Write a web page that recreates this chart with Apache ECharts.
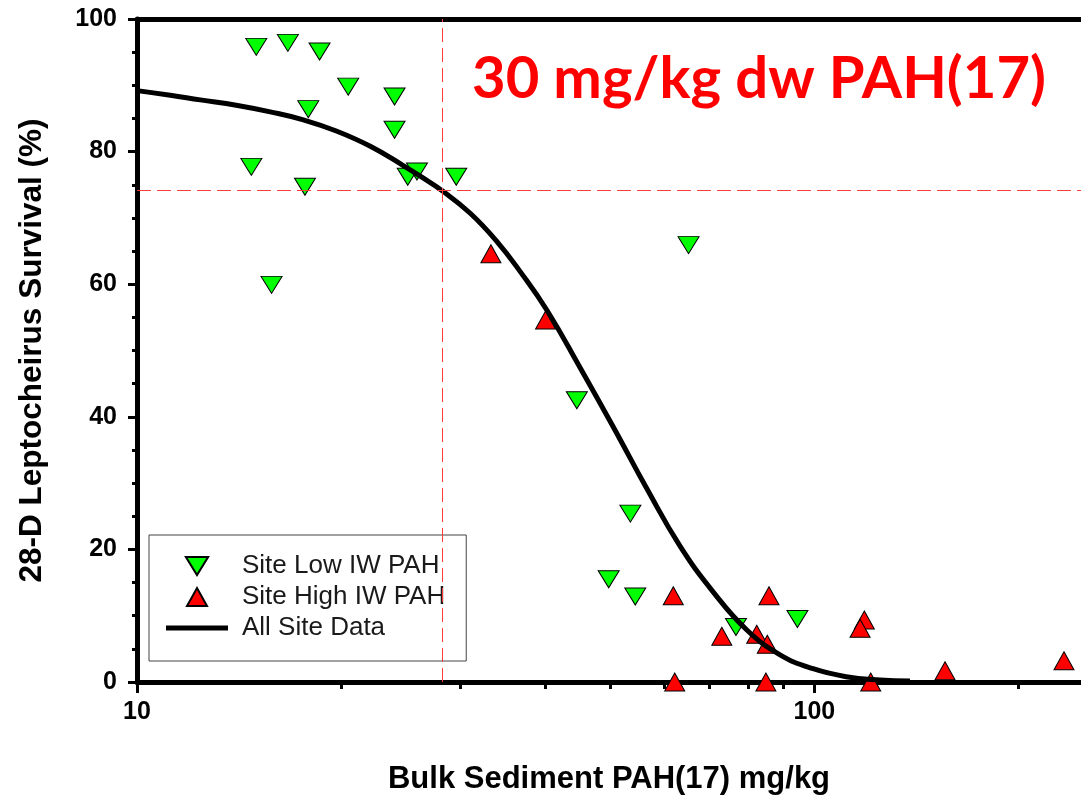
<!DOCTYPE html>
<html>
<head>
<meta charset="utf-8">
<script src="https://cdn.jsdelivr.net/npm/echarts@6/dist/echarts.min.js"></script>
<style>
html,body{margin:0;padding:0;background:#fff;}
#chart{width:1081px;height:795px;}
</style>
</head>
<body>
<div id="chart"></div>
<script>
// ---- data ----
const lowIWX = [15.0, 16.7, 18.6, 20.5, 24.0, 17.9, 24.0, 14.75, 17.7, 25.1, 25.9, 29.6, 15.8, 65.2, 44.6, 53.5, 49.7, 54.4, 76.6, 94.4];
const lowIWY = [95.8, 96.4, 95.1, 89.8, 88.3, 86.4, 83.3, 77.7, 74.7, 76.2, 77.0, 76.2, 59.9, 65.9, 42.5, 25.4, 15.5, 12.9, 8.3, 9.5];

const highIWX = [33.3, 40.1, 61.9, 85.7, 73.0, 82.2, 85.2, 62.2, 84.8, 118.5, 116.8, 121.1, 155.9, 233.6];
const highIWY = [64.6, 54.6, 13.0, 13.0, 6.9, 7.2, 5.7, 0.0, 0.0, 9.35, 8.1, 0.0, 1.7, 3.2];

const fitX = [10.0, 11.2, 12.4, 14.01, 15.73, 17.6, 19.69, 22.1, 24.72, 26.19, 28.22, 31.04, 34.02, 36.79, 40.33, 45.1, 50.46, 56.62, 63.34, 70.87, 79.56, 88.98, 99.56, 111.4, 125.0, 138.4];
const fitY = [89.2, 88.5, 87.8, 87.0, 86.0, 84.8, 83.1, 80.8, 77.9, 76.3, 74.1, 70.7, 66.4, 61.9, 56.0, 47.4, 38.5, 29.1, 20.5, 13.6, 7.8, 4.1, 2.0, 0.8, 0.3, 0.15];

const refX = 28.2;      // vertical dashed reference (mg/kg)
const refY = 74.2;      // horizontal dashed reference (%)

const xMajorTicks = [10, 100];
const xMinorTicks = [20, 30, 40, 50, 60, 70, 80, 90, 200];
const xMin = 10, xMax = 247.5;
const yMin = 0, yMax = 100, yStep = 20;

const seriesNames = ['Site Low IW PAH', 'Site High IW PAH', 'All Site Data'];
const annotation = '30 mg/kg dw PAH(17)';
const xTitle = 'Bulk Sediment PAH(17) mg/kg';
const yTitle = '28-D Leptocheirus Survival (%)';

// ---- build ----
const zip = (a, b) => a.map((v, i) => [v, b[i]]);
const FONT = '"Liberation Sans", Arial, sans-serif';
const downTri = 'path://M0,0L21,0L10.5,17Z';
const upTri = 'path://M10,0L20,18L0,18Z';
const lineIcon = 'path://M0,0L62,0L62,5L0,5Z';

const chart = echarts.init(document.getElementById('chart'), null, {renderer: 'canvas'});

const baseLog = {
  type: 'log', logBase: 10, min: xMin, max: xMax, gridIndex: 0,
  splitLine: {show: false}
};

chart.setOption({
  backgroundColor: '#ffffff',
  animation: false,
  grid: {left: 137, right: 0, top: 19, bottom: 113, containLabel: false, outerBoundsMode: 'none'},
  xAxis: [
    Object.assign({}, baseLog, {
      position: 'bottom',
      name: xTitle, nameLocation: 'middle', nameGap: 82,
      nameTextStyle: {fontFamily: FONT, fontWeight: 'bold', fontSize: 31, color: '#000'},
      axisLine: {show: true, lineStyle: {color: '#000', width: 5}},
      axisTick: {show: true, length: 11, lineStyle: {color: '#000', width: 3}, customValues: xMajorTicks},
      axisLabel: {show: true, margin: 18, fontFamily: FONT, fontWeight: 'bold', fontSize: 25, color: '#000', customValues: xMajorTicks}
    }),
    Object.assign({}, baseLog, {
      position: 'bottom',
      axisLine: {show: false},
      axisTick: {show: true, length: 7, lineStyle: {color: '#000', width: 3}, customValues: xMinorTicks},
      axisLabel: {show: false}
    }),
    Object.assign({}, baseLog, {
      position: 'top',
      axisLine: {show: true, lineStyle: {color: '#000', width: 5}},
      axisTick: {show: false},
      axisLabel: {show: false}
    })
  ],
  yAxis: {
    type: 'value', min: yMin, max: yMax, interval: yStep,
    name: yTitle, nameLocation: 'middle', nameGap: 89,
    nameTextStyle: {fontFamily: FONT, fontWeight: 'bold', fontSize: 31.5, color: '#000'},
    axisLine: {show: true, lineStyle: {color: '#000', width: 5}},
    axisTick: {show: true, length: 9, lineStyle: {color: '#000', width: 3}},
    minorTick: {show: true, splitNumber: 4, length: 5, lineStyle: {color: '#000', width: 3}},
    axisLabel: {margin: 20, fontFamily: FONT, fontWeight: 'bold', fontSize: 25, color: '#000'},
    splitLine: {show: false}
  },
  legend: {
    orient: 'vertical', left: 149, top: 535,
    padding: [18, 21, 20, 17],
    itemWidth: 62, itemHeight: 18, itemGap: 5,
    borderColor: '#444', borderWidth: 1, backgroundColor: '#fff',
    textStyle: {fontFamily: FONT, fontSize: 26, color: '#1a1a1a', padding: [0, 0, 0, 9]},
    data: [
      {name: seriesNames[0], icon: downTri},
      {name: seriesNames[1], icon: upTri},
      {name: seriesNames[2], icon: lineIcon}
    ]
  },
  graphic: [{
    type: 'text', left: 472, top: 50, z: 100,
    style: {text: annotation, fill: '#ff0000', font: 'bold 58px Lato, "Open Sans", sans-serif'}
  }],
  series: [
    {
      name: seriesNames[0], type: 'scatter', xAxisIndex: 0, z: 3,
      symbol: 'triangle', symbolRotate: 180, symbolSize: [21, 17],
      itemStyle: {color: '#00ff00', borderColor: '#000', borderWidth: 1, opacity: 1},
      data: zip(lowIWX, lowIWY)
    },
    {
      name: seriesNames[1], type: 'scatter', xAxisIndex: 0, z: 3,
      symbol: 'triangle', symbolSize: [20, 18],
      itemStyle: {color: '#ff0000', borderColor: '#000', borderWidth: 1, opacity: 1},
      data: zip(highIWX, highIWY)
    },
    {
      name: seriesNames[2], type: 'line', xAxisIndex: 0, z: 4,
      smooth: 0.45, showSymbol: false, symbol: 'none',
      lineStyle: {color: '#000', width: 5},
      itemStyle: {color: '#000'},
      data: zip(fitX, fitY),
      markLine: {
        silent: true, symbol: 'none', animation: false,
        label: {show: false},
        lineStyle: {color: '#ff3b3b', width: 1, type: [14, 6]},
        data: [{xAxis: refX}, {yAxis: refY}]
      }
    }
  ]
});
</script>
</body>
</html>
